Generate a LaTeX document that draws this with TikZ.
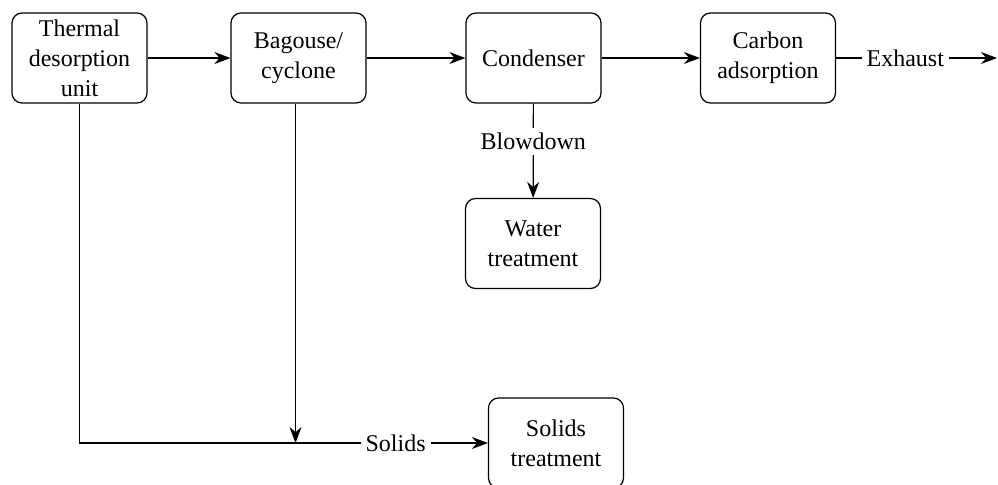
\documentclass[tikz,border=0pt]{standalone}
\usepackage{fontspec}
\setmainfont{Liberation Serif}
\usetikzlibrary{arrows.meta}

\begin{document}
\begin{tikzpicture}[x=0.5pt, y=-0.5pt,
  unit/.style={draw, line width=0.6pt, rounded corners=5pt, align=center,
    minimum width=67.5pt, minimum height=45pt, inner sep=0pt,
    font=\fontsize{12}{15}\selectfont},
  flow/.style={line width=0.6pt, -{Stealth[length=8pt, width=6pt]}},
  lbl/.style={fill=white, inner sep=2.5pt, font=\fontsize{12}{15}\selectfont}]
  \useasboundingbox (0,0) rectangle (998,484);

  % Process units
  \node[unit] (therm) at (79.5, 58) {Thermal\\desorption\\unit};
  \node[unit] (bag) at (298.5, 58) {Bagouse/\\cyclone};
  \node[unit] (cond) at (533.5, 58) {Condenser};
  \node[unit] (carb) at (768, 58) {Carbon\\adsorption};
  \node[unit] (water) at (533, 243.5) {Water\\treatment};
  \node[unit] (solid) at (556, 443) {Solids\\treatment};
  \coordinate (exh) at (997, 58);

  % Gas line
  \draw[flow] (therm) -- (bag);
  \draw[flow] (bag) -- (cond);
  \draw[flow] (cond) -- (carb);
  \draw[flow] (carb) -- node[lbl, pos=0.43] {Exhaust} (exh);

  % Water and solids
  \draw[flow] (cond) -- node[lbl, pos=0.4] {Blowdown} (water);
  \draw[flow] ([xshift=-1.5pt]bag.south) -- ([xshift=-1.5pt]bag.south |- solid.west);
  \draw[flow] (therm) |- node[lbl, pos=0.887] {Solids} (solid);
\end{tikzpicture}
\end{document}
